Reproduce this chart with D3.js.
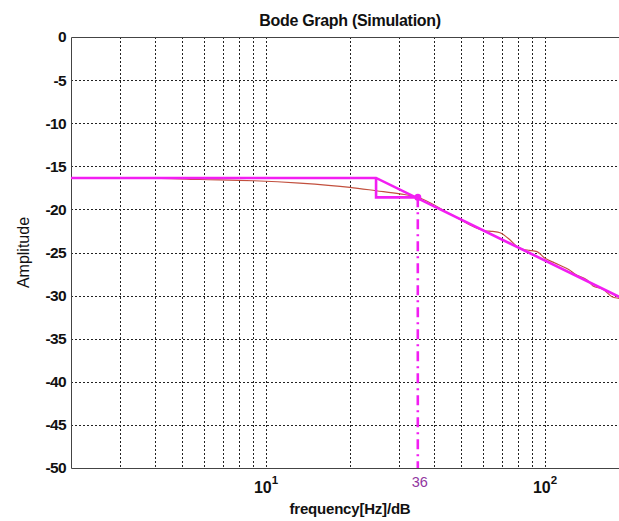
<!DOCTYPE html>
<html>
<head>
<meta charset="utf-8">
<script src="https://cdn.jsdelivr.net/npm/d3@7"></script>
<style>
  body { margin: 0; background: #fff; }
  svg { display: block; }
  text { font-family: "Liberation Sans", Arial, sans-serif; }
</style>
</head>
<body>
<script>
// ---- data ----
const chartTitle = "Bode Graph (Simulation)";
const xLabel = "frequency[Hz]/dB";
const yLabel = "Amplitude";

const freqDomain = [2, 200];
const ampDomain = [-50, 0];
const ampTicks = [0, -5, -10, -15, -20, -25, -30, -35, -40, -45, -50];
const freqGrid = [3, 4, 5, 6, 7, 8, 9, 10, 20, 30, 40, 50, 60, 70, 80, 90, 100];
const freqTickFreqs = [10, 100];
const freqTickExps = ["1", "2"];

// asymptotic approximation (magenta)
const asymFreq = [2, 24.8, 200];
const asymAmp = [-16.35, -16.35, -30.7];
// small step down to the cutoff marker
const stepFreq = [24.8, 24.8, 35];
const stepAmp = [-16.35, -18.6, -18.6];

const cutoffFreq = 35;
const cutoffAmp = -18.6;
const cutoffLabel = "36";

// simulated response (thin brown)
const simFreq = [2, 4.2, 5.8, 9.0, 13.2, 20.0, 24.8, 30.2, 35, 45.6, 60.9, 65, 69.0, 75.0, 79.5,
  83.4, 88, 93.6, 100, 108.6, 116, 122, 128, 141.5, 148.6, 161.4, 173.8, 185, 200];
const simAmp = [-16.39, -16.42, -16.53, -16.67, -16.95, -17.44, -17.83, -18.2, -18.6, -20.5, -22.47, -22.55, -22.7, -23.55, -24.33,
  -24.63, -24.75, -24.9, -25.67, -26.22, -26.65, -27.0, -27.49, -28.19, -28.89, -29.27, -30.13, -30.35, -30.7];

// ---- layout ----
const width = 619, height = 521;
const margin = { left: 71, top: 37, right: 629, bottom: 468 };

const svg = d3.select("body").append("svg")
  .attr("width", width)
  .attr("height", height);

const x = d3.scaleLog().domain(freqDomain).range([margin.left, margin.right]);
const y = d3.scaleLinear().domain(ampDomain).range([margin.bottom, margin.top]);

// grid
const gridG = svg.append("g")
  .attr("stroke", "#222")
  .attr("stroke-width", 1)
  .attr("stroke-dasharray", "2,2");

gridG.selectAll(".vgrid")
  .data(freqGrid)
  .enter()
  .append("line")
  .attr("class", "vgrid")
  .attr("x1", d => Math.round(x(d)) + 0.5)
  .attr("x2", d => Math.round(x(d)) + 0.5)
  .attr("y1", margin.top)
  .attr("y2", margin.bottom);

gridG.selectAll(".hgrid")
  .data(ampTicks.filter(d => d !== 0 && d !== -50))
  .enter()
  .append("line")
  .attr("class", "hgrid")
  .attr("x1", margin.left)
  .attr("x2", margin.right)
  .attr("y1", d => Math.round(y(d)) + 0.5)
  .attr("y2", d => Math.round(y(d)) + 0.5);

// y axis
const yAxis = d3.axisLeft(y)
  .tickValues(ampTicks)
  .tickSize(0)
  .tickPadding(5)
  .tickFormat(d => d === 0 ? "0" : "-" + Math.abs(d));

const yAxisG = svg.append("g")
  .attr("transform", "translate(" + margin.left + ",0)")
  .call(yAxis);
yAxisG.select(".domain").remove();
yAxisG.selectAll("text")
  .attr("font-family", "Liberation Sans, Arial, sans-serif")
  .attr("font-size", 15.5)
  .attr("font-weight", "bold")
  .attr("letter-spacing", "-0.6")
  .attr("fill", "#111");

// frame
const frameG = svg.append("g")
  .attr("stroke", "#444")
  .attr("stroke-width", 1)
  .attr("fill", "none");
frameG.append("path")
  .attr("d", "M" + (margin.right) + "," + (y(0) + 0.5) +
    " H" + (margin.left + 0.5) +
    " V" + (y(-50) + 0.5) +
    " H" + margin.right);

// x tick labels 10^1, 10^2
const xTickG = svg.selectAll(".xtick")
  .data(freqTickFreqs)
  .enter()
  .append("text")
  .attr("class", "xtick")
  .attr("x", d => x(d))
  .attr("y", 493)
  .attr("text-anchor", "middle")
  .attr("font-size", 16)
  .attr("font-weight", "bold")
  .attr("fill", "#111");
xTickG.append("tspan").text("10");
xTickG.append("tspan")
  .attr("dy", -9)
  .attr("font-size", 11.5)
  .text((d, i) => freqTickExps[i]);

// curves
const line = d3.line()
  .x(d => x(d[0]))
  .y(d => y(d[1]));

svg.append("path")
  .datum(d3.zip(simFreq, simAmp))
  .attr("fill", "none")
  .attr("stroke", "#c2503e")
  .attr("stroke-width", 1.1)
  .attr("d", line.curve(d3.curveMonotoneX));

line.curve(d3.curveLinear);

svg.append("path")
  .datum(d3.zip(asymFreq, asymAmp))
  .attr("fill", "none")
  .attr("stroke", "#f21ef2")
  .attr("stroke-width", 2.6)
  .attr("d", line);

svg.append("path")
  .datum(d3.zip(stepFreq, stepAmp))
  .attr("fill", "none")
  .attr("stroke", "#f21ef2")
  .attr("stroke-width", 2.6)
  .attr("d", line);

// cutoff marker
svg.append("line")
  .attr("x1", x(cutoffFreq))
  .attr("x2", x(cutoffFreq))
  .attr("y1", y(cutoffAmp))
  .attr("y2", y(-50))
  .attr("stroke", "#f21ef2")
  .attr("stroke-width", 2.6)
  .attr("stroke-dasharray", "10,5,2,5");

svg.append("circle")
  .attr("cx", x(cutoffFreq))
  .attr("cy", y(cutoffAmp))
  .attr("r", 3.5)
  .attr("fill", "#f21ef2");

svg.append("text")
  .attr("x", x(cutoffFreq) + 2)
  .attr("y", 487)
  .attr("text-anchor", "middle")
  .attr("font-size", 14.5)
  .attr("fill", "#9236a0")
  .text(cutoffLabel);

// titles
svg.append("text")
  .attr("x", (margin.left + margin.right) / 2)
  .attr("y", 26)
  .attr("text-anchor", "middle")
  .attr("font-size", 16)
  .attr("font-weight", "bold")
  .attr("letter-spacing", "-0.3")
  .attr("fill", "#111")
  .text(chartTitle);

svg.append("text")
  .attr("x", (margin.left + margin.right) / 2)
  .attr("y", 514)
  .attr("text-anchor", "middle")
  .attr("font-size", 15)
  .attr("font-weight", "bold")
  .attr("letter-spacing", "-0.2")
  .attr("fill", "#111")
  .text(xLabel);

svg.append("text")
  .attr("transform", "translate(29," + ((margin.top + margin.bottom) / 2) + ") rotate(-90)")
  .attr("text-anchor", "middle")
  .attr("font-size", 16)
  .attr("fill", "#111")
  .text(yLabel);
</script>
</body>
</html>
